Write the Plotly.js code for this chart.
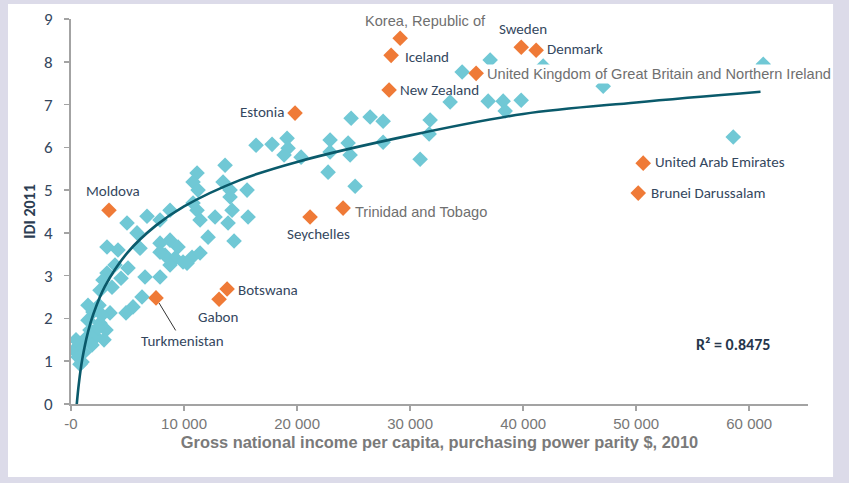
<!DOCTYPE html>
<html>
<head>
<meta charset="utf-8">
<script src="https://cdn.plot.ly/plotly-3.0.1.min.js"></script>
<style>html,body{margin:0;padding:0;background:#dcdbe9;}#chart{width:849px;height:483px;}</style>
</head>
<body>
<div id="chart"></div>
<script>
// ---- Data ----
const blueX = [
  265, 620, 974, 797, 1328, 1151, 1682, 2213, 1505, 1947, 2478, 2567, 3098, 2921, 3452, 1859, 797, 1505, 443, 2390, 2744, 4868, 5487, 6284,
  2567, 3629, 3186, 3894, 5045, 6549, 7877, 2832, 4425,
  3186, 4160, 6107, 7877, 8762, 9470, 8319, 9204, 9912, 8762, 10709, 11417, 7877, 12125, 14426, 10266,
  6726, 4956, 5841, 8762, 7877, 11151, 11417, 12744, 13895, 14249, 15665, 10797, 14072,
  13629, 11151, 10797, 11240, 13452, 14072, 15576,
  16373, 17789, 19116, 19205, 18851, 20355, 22922, 24515, 24692, 22922, 27612, 22745, 25134, 30887, 31683,
  24780, 26462, 27612, 31772,
  33542, 34604, 37082, 36905, 38232, 38409, 39825, 41772, 47082, 61242, 58587
];
const blueY = [
  1.26, 1.10, 0.98, 1.40, 1.54, 1.21, 1.73, 1.57, 1.96, 2.15, 2.31, 1.89, 1.73, 1.50, 2.13, 1.38, 0.93, 2.31, 1.50, 1.78, 2.08, 2.13, 2.27, 2.50,
  2.66, 2.73, 3.06, 3.25, 3.18, 2.97, 2.97, 2.90, 2.94,
  3.67, 3.60, 3.64, 3.76, 3.83, 3.67, 3.48, 3.41, 3.32, 3.25, 3.43, 3.53, 3.55, 3.90, 3.81, 3.29,
  4.39, 4.23, 4.00, 4.53, 4.30, 4.53, 4.30, 4.37, 4.23, 4.53, 4.37, 4.70, 4.84,
  5.58, 5.40, 5.19, 5.00, 5.19, 5.00, 5.00,
  6.05, 6.07, 6.21, 5.98, 5.82, 5.77, 6.17, 6.10, 5.82, 5.89, 6.12, 5.42, 5.09, 5.72, 6.31,
  6.68, 6.71, 6.61, 6.64,
  7.06, 7.76, 8.04, 7.08, 7.08, 6.85, 7.10, 7.90, 7.43, 7.94, 6.24
];

const orangeNames = ["Korea, Republic of", "Iceland", "Sweden", "Denmark",
  "United Kingdom of Great Britain and Northern Ireland", "New Zealand", "Estonia",
  "Moldova", "Trinidad and Tobago", "Seychelles", "Botswana", "Gabon", "Turkmenistan",
  "United Arab Emirates", "Brunei Darussalam"];
const orangeX = [29120, 28320, 39830, 41150, 35840, 28140, 19820, 3360, 24070, 21150, 13810, 13100, 7520, 50620, 50180];
const orangeY = [8.55, 8.15, 8.34, 8.27, 7.73, 7.34, 6.80, 4.53, 4.58, 4.37, 2.69, 2.45, 2.48, 5.63, 4.93];

// trend line values
const trendX = [510, 700, 1000, 1500, 2000, 3000, 5000, 7500, 10000, 15000, 20000, 30000, 40000, 50000, 61000];
const trendY = [0.00, 0.49, 1.05, 1.68, 2.12, 2.75, 3.54, 4.17, 4.62, 5.24, 5.66, 6.28, 6.78, 7.05, 7.30];

const xTickVals = [0, 10000, 20000, 30000, 40000, 50000, 60000];
const xTickText = ["-0", "10 000", "20 000", "30 000", "40 000", "50 000", "60 000"];
const yTickVals = [0, 1, 2, 3, 4, 5, 6, 7, 8, 9];
const r2Text = "R² = 0.8475";

// ---- Styling / label placement ----
const calibri = "Carlito, Lato, 'Open Sans', sans-serif";
const arial = "'Liberation Sans', Arial, sans-serif";
const slate = "#34475e";
const grey = "#6f6f6f";

const labelStyle = {
  "Korea, Republic of": {xanchor: "center", xshift: 25, yshift: 17, font: arial, color: grey, size: 14.6},
  "Iceland": {xanchor: "left", xshift: 12, yshift: -2},
  "Sweden": {xanchor: "center", xshift: 2, yshift: 18},
  "Denmark": {xanchor: "left", xshift: 9, yshift: 1},
  "United Kingdom of Great Britain and Northern Ireland": {xanchor: "left", xshift: 9, yshift: -1, font: arial, color: grey, bg: "white", size: 14.6},
  "New Zealand": {xanchor: "left", xshift: 9, yshift: 0},
  "Estonia": {xanchor: "right", xshift: -9, yshift: 1},
  "Moldova": {xanchor: "center", xshift: 4, yshift: 19},
  "Trinidad and Tobago": {xanchor: "left", xshift: 10, yshift: -4, font: arial, color: grey, size: 14.6},
  "Seychelles": {xanchor: "center", xshift: 8, yshift: -17},
  "Botswana": {xanchor: "left", xshift: 9, yshift: -1},
  "Gabon": {xanchor: "center", xshift: -1, yshift: -18},
  "Turkmenistan": {arrow: true, ax: 26, ay: 43},
  "United Arab Emirates": {xanchor: "left", xshift: 10, yshift: 1},
  "Brunei Darussalam": {xanchor: "left", xshift: 11, yshift: 0}
};

const annotations = orangeNames.map((name, i) => {
  const s = labelStyle[name] || {};
  const a = {
    x: orangeX[i], y: orangeY[i], xref: "x", yref: "y", text: name,
    font: {family: s.font || calibri, size: s.size || 15, color: s.color || slate},
    showarrow: false, xanchor: s.xanchor || "center", yanchor: "middle",
    xshift: s.xshift || 0, yshift: s.yshift || 0
  };
  if (s.bg) { a.bgcolor = s.bg; a.borderpad = 1; }
  if (s.arrow) {
    a.showarrow = true; a.arrowhead = 0; a.arrowwidth = 1; a.arrowcolor = "#333";
    a.ax = s.ax; a.ay = s.ay; a.standoff = 6;
    delete a.xanchor; delete a.yanchor; delete a.xshift; delete a.yshift;
  }
  return a;
});
annotations.push({
  x: 58590, y: 1.40, xref: "x", yref: "y", text: r2Text, showarrow: false,
  font: {family: calibri, size: 16, color: "#26364b", weight: "bold"}
});

const traces = [
  {x: blueX, y: blueY, type: "scatter", mode: "markers",
   marker: {symbol: "diamond", size: 12, color: "#70c8d5"}, hoverinfo: "x+y"},
  {x: trendX, y: trendY, type: "scatter", mode: "lines",
   line: {color: "#0a5a6b", width: 2.6, shape: "spline"}, hoverinfo: "skip"},
  {x: orangeX, y: orangeY, text: orangeNames, type: "scatter", mode: "markers",
   marker: {symbol: "diamond", size: 12, color: "#ef7a37"}, hoverinfo: "text"}
];

const layout = {
  width: 849, height: 483,
  margin: {l: 71, r: 41, t: 19, b: 79},
  paper_bgcolor: "#dcdbe9",
  plot_bgcolor: "rgba(0,0,0,0)",
  showlegend: false,
  shapes: [{type: "rect", xref: "paper", yref: "paper", x0: -0.0855, x1: 1.034, y0: -0.1896, y1: 1.039,
            fillcolor: "white", line: {width: 0}, layer: "below"}],
  xaxis: {
    range: [0, 65200], showgrid: false, zeroline: false,
    showline: true, linecolor: "#a3a3a3", linewidth: 2,
    ticks: "outside", ticklen: 5, tickcolor: "#a3a3a3", tickwidth: 1.5,
    tickvals: xTickVals, ticktext: xTickText,
    tickfont: {family: arial, size: 15, color: "#777777"},
    title: {text: "Gross national income per capita, purchasing power parity $, 2010",
            font: {family: arial, size: 16.4, color: "#7a7a7a", weight: "bold"}, standoff: 6}
  },
  yaxis: {
    range: [0, 9], showgrid: false, zeroline: false,
    showline: true, linecolor: "#a3a3a3", linewidth: 2,
    ticks: "outside", ticklen: 5, tickcolor: "#a3a3a3", tickwidth: 1.5,
    tickvals: yTickVals, ticklabelstandoff: 8,
    tickfont: {family: calibri, size: 17, color: "#34475e"},
    title: {text: "IDI 2011", font: {family: calibri, size: 16, color: "#2c3d52", weight: "bold"}, standoff: 4}
  },
  annotations: annotations
};

Plotly.newPlot("chart", traces, layout, {displayModeBar: false, staticPlot: true});
</script>
</body>
</html>
